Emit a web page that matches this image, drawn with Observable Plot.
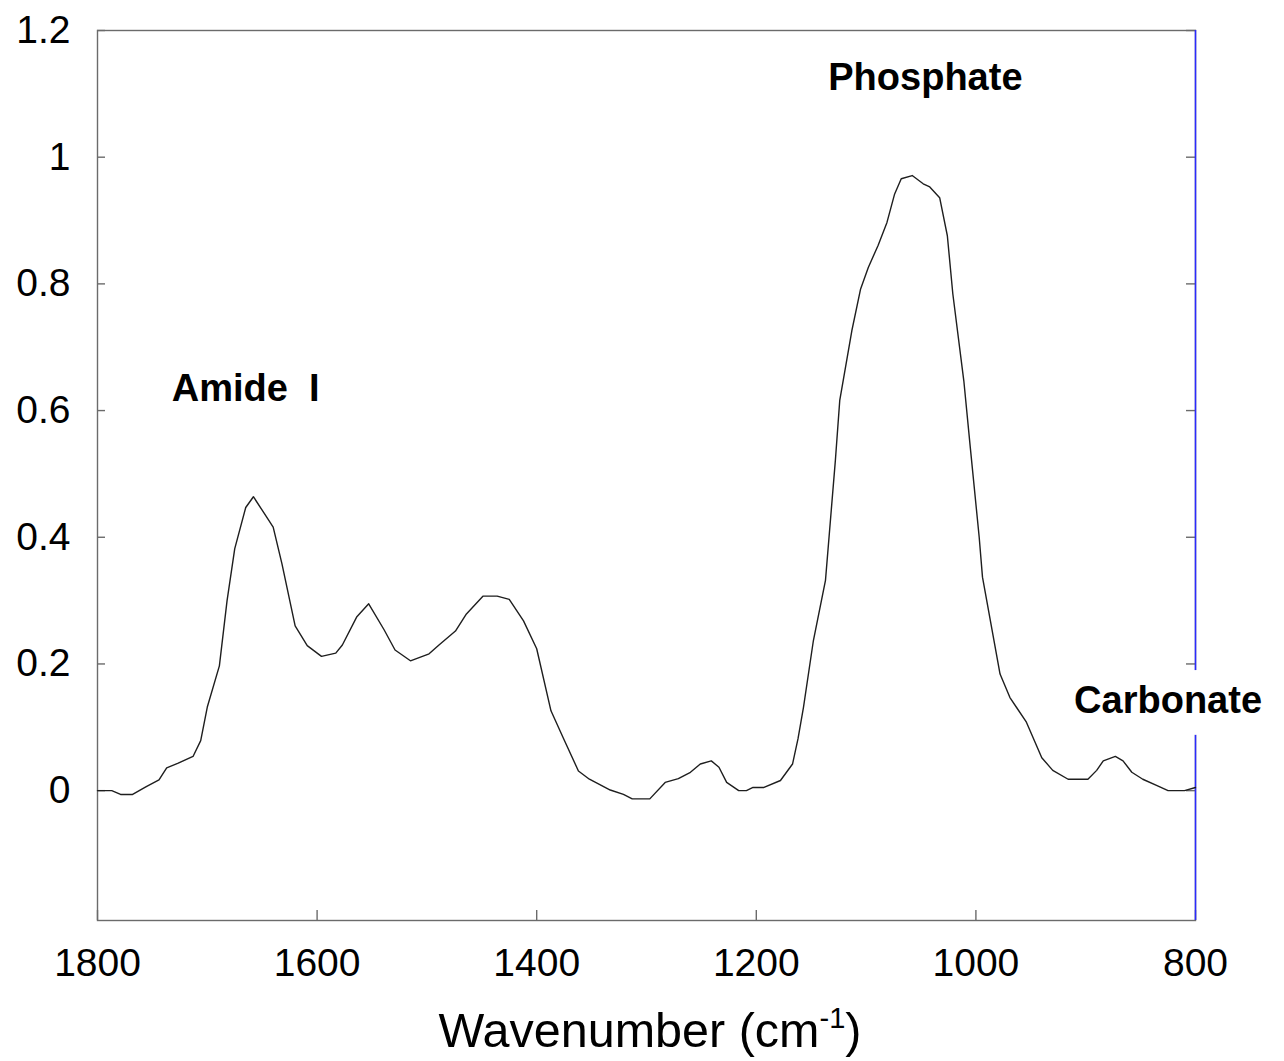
<!DOCTYPE html>
<html>
<head>
<meta charset="utf-8">
<script src="https://cdn.jsdelivr.net/npm/d3@7"></script>
<script src="https://cdn.jsdelivr.net/npm/@observablehq/plot@0.6"></script>
<style>
  html, body { margin: 0; padding: 0; background: #fff; }
  #chart svg { display: block; }
</style>
</head>
<body>
<div id="chart"></div>
<script>
// Spectrum: wavenumber (cm^-1) and absorbance
const wavenumber = [1800,1787,1779,1768,1756,1744,1737,1727,1713,1706,1700,1689,1682,1675,1665,1658,1649,1640,1632,1620,1609,1596,1583,1577,1564,1553,1539,1529,1515,1498,1489,1474,1464,1449,1436,1425,1412,1400,1387,1376,1362,1352,1333,1321,1313,1297,1283,1271,1260,1251,1241,1234,1227,1216,1209,1203,1193,1178,1167,1162,1157,1148,1137,1128,1124,1113,1105,1098,1089,1081,1074,1068,1058,1048,1042,1033,1026,1021,1011,1005,997,994,978,969,954,940,930,916,898,890,884,873,866,858,848,835,825,810,800];
const absorbance = [0,0,-0.006,-0.006,0.006,0.017,0.036,0.043,0.054,0.079,0.132,0.197,0.300,0.382,0.447,0.464,0.440,0.416,0.358,0.260,0.229,0.212,0.217,0.230,0.274,0.295,0.254,0.222,0.205,0.216,0.230,0.252,0.279,0.307,0.307,0.302,0.268,0.224,0.126,0.084,0.031,0.018,0.001,-0.006,-0.013,-0.013,0.013,0.019,0.029,0.042,0.047,0.037,0.013,0,0,0.005,0.005,0.016,0.042,0.082,0.132,0.237,0.332,0.521,0.616,0.726,0.792,0.826,0.861,0.897,0.942,0.966,0.971,0.958,0.953,0.936,0.876,0.784,0.647,0.540,0.400,0.337,0.184,0.147,0.108,0.052,0.032,0.018,0.018,0.032,0.047,0.054,0.047,0.029,0.018,0.008,0,0,0.005];

const xDomain = [1800, 800];
const yDomain = [-0.205, 1.2];
const xTicks = [1800, 1600, 1400, 1200, 1000, 800];
const xTickLabels = ["1800", "1600", "1400", "1200", "1000", "800"];
const yTicks = [0, 0.2, 0.4, 0.6, 0.8, 1, 1.2];
const yTickLabels = ["0", "0.2", "0.4", "0.6", "0.8", "1", "1.2"];

// Band annotations (anchor in data units)
const bandNames = ["Amide\u00a0 I", "Phosphate", "Carbonate"];
const bandX = [1665, 1046, 825];
const bandY = [0.635, 1.126, 0.142];

const spectrum = wavenumber.map((w, i) => ({w, a: absorbance[i]}));
const bands = bandNames.map((t, i) => ({t, x: bandX[i], y: bandY[i]}));

const font = "'Liberation Sans', Arial, Helvetica, sans-serif";
const frameColor = "#6b6b6b";

const chart = Plot.plot({
  width: 1284,
  height: 1061,
  marginLeft: 97,
  marginRight: 89,
  marginTop: 30,
  marginBottom: 141,
  style: {fontFamily: font, background: "#fff", color: "#000"},
  x: {domain: xDomain, ticks: xTicks},
  y: {domain: yDomain, ticks: yTicks},
  marks: [
    Plot.frame({stroke: frameColor, strokeWidth: 1.4}),
    // inward ticks
    Plot.axisY(yTicks, {anchor: "left", tickSize: 8, dx: 8, tickFormat: () => "", label: null, stroke: frameColor, strokeWidth: 1.4}),
    Plot.axisY(yTicks, {anchor: "right", tickSize: 10, dx: -10, tickFormat: () => "", label: null, stroke: frameColor, strokeWidth: 1.4}),
    Plot.axisX(xTicks, {anchor: "bottom", tickSize: 10, dy: -10, tickFormat: () => "", label: null, stroke: frameColor, strokeWidth: 1.4}),
    // tick labels
    Plot.axisY(yTicks, {anchor: "left", tickSize: 0, tickPadding: 27, tickFormat: d => yTickLabels[yTicks.indexOf(d)], label: null, fontSize: 39, fill: "#000"}),
    Plot.axisX(xTicks, {anchor: "bottom", tickSize: 0, tickPadding: 28, tickFormat: d => xTickLabels[xTicks.indexOf(d)], label: null, fontSize: 39, fill: "#000"}),
    // right border in blue
    Plot.ruleX([xDomain[1]], {stroke: "#2a2aff", strokeWidth: 1.5}),
    // spectrum
    Plot.line(spectrum, {x: "w", y: "a", stroke: "#1e1e1e", strokeWidth: 1.4}),
    // annotations
    Plot.text(bands, {x: "x", y: "y", text: "t", fontSize: 38, fontWeight: "bold", fill: "#000",
      stroke: "#fff", strokeWidth: 44, strokeLinejoin: "round", textAnchor: "middle"})
  ]
});

document.getElementById("chart").appendChild(chart);

// Axis title with a real superscript
const svg = d3.select(chart);
const title = svg.append("text")
  .attr("x", 650)
  .attr("y", 1047)
  .attr("text-anchor", "middle")
  .attr("font-family", font)
  .attr("font-size", 48.5)
  .attr("fill", "#000");
title.append("tspan").text("Wavenumber (cm");
title.append("tspan").attr("dy", -19).attr("font-size", 29).text("-1");
title.append("tspan").attr("dy", 19).text(")");
</script>
</body>
</html>
